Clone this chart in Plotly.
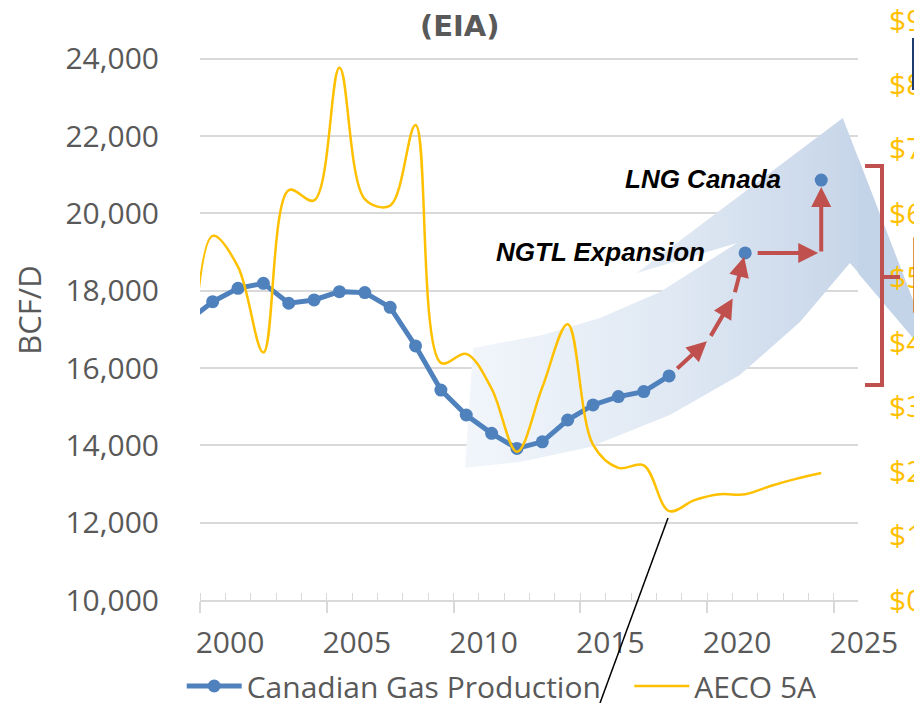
import plotly.graph_objects as go

# Canadian gas production (left axis)
prod_years = list(range(1999, 2019))
production = [17200, 17715, 18060, 18190, 17675, 17760, 17975, 17950, 17570, 16570,
              15430, 14785, 14310, 13920, 14090, 14655, 15045, 15260, 15390, 15795]

# projected points
proj_years = [2021, 2024]
proj_values = [18975, 20860]
proj_labels = ["NGTL Expansion", "LNG Canada"]

# path of the red arrows (2018 -> NGTL -> LNG Canada)
route_years = [2018, 2019.55, 2020.55, 2021, 2024, 2024]
route_values = [15795, 16725, 17845, 18975, 18975, 20860]

# AECO 5A price (right axis)
aeco_years = list(range(1999, 2025))
aeco_price = [1.6, 5.65, 5.17, 3.84, 6.36, 6.2, 8.26, 6.22, 6.12, 7.37,
              3.68, 3.82, 3.28, 2.3, 3.3, 4.28, 2.41, 2.05, 2.09, 1.38,
              1.55, 1.64, 1.64, 1.77, 1.88, 1.97]

tick_years = [2000, 2005, 2010, 2015, 2020, 2025]
left_ticks = list(range(10000, 24001, 2000))
right_ticks = list(range(0, 10))

GRAY = "#595959"
GRID = "#D9D9D9"
BLUE = "#4F81BD"
GOLD = "#FFC000"
RED = "#C0504D"
FONT = "Open Sans"

# big light-blue growth arrow (decoration, in axis units)
arrow_x = [2010.27, 2013.0, 2015.27, 2017.64, 2020.68, 2016.73, 2024.85, 2028.6,
           2025.13, 2023.16, 2020.79, 2018.03, 2014.88, 2012.12, 2009.95]
arrow_y = [16517, 16853, 17293, 17965, 19233, 18457, 22465, 16100,
           18715, 17190, 15819, 14784, 13957, 13569, 13414]

fig = go.Figure()

fig.add_trace(go.Scatter(
    x=arrow_x, y=arrow_y, fill="toself", mode="none",
    fillgradient=dict(type="horizontal",
                      colorscale=[[0, "#F2F6FB"], [0.45, "#DFE8F3"], [1, "#BCCDE4"]]),
    hoverinfo="skip", showlegend=False))

fig.add_trace(go.Scatter(
    x=prod_years, y=production, name="Canadian Gas Production" + "\u00a0" * 3,
    mode="lines+markers", line=dict(color=BLUE, width=5),
    marker=dict(color=BLUE, size=13)))

fig.add_trace(go.Scatter(
    x=proj_years, y=proj_values, mode="markers", showlegend=False,
    marker=dict(color=BLUE, size=13)))

fig.add_trace(go.Scatter(
    x=aeco_years, y=aeco_price, name="AECO 5A", yaxis="y2",
    mode="lines", line=dict(color=GOLD, width=2.5, shape="spline", smoothing=1.0)))

# red step arrows
start_off = [9, 3, 3, 11, 0]
end_off = [2, 2, 4, 3, 7]
for i in range(len(route_years) - 1):
    fig.add_annotation(
        x=route_years[i + 1], y=route_values[i + 1], ax=route_years[i], ay=route_values[i],
        xref="x", yref="y", axref="x", ayref="y", text="",
        showarrow=True, arrowhead=2, arrowsize=1, arrowwidth=4, arrowcolor=RED,
        startstandoff=start_off[i], standoff=end_off[i])

for yr, val, lab in zip(proj_years, proj_values, proj_labels):
    fig.add_annotation(
        x=yr, y=val, xref="x", yref="y", text="<b><i>" + lab + "</i></b>",
        showarrow=False, xanchor="right", xshift=-38, yshift=1,
        font=dict(family="Liberation Sans", size=26, color="black"))

# page is shown with an 8px body margin, so screen pixels are offset by 8
OFF = 8
PLOT_L, PLOT_R, PLOT_T, PLOT_B = 200 - OFF, 858 - OFF, 20 - OFF, 600 - OFF


def px_x(p):
    return (p - OFF - PLOT_L) / float(PLOT_R - PLOT_L)


def px_y(p):
    return (PLOT_B - (p - OFF)) / float(PLOT_B - PLOT_T)


fig.add_annotation(
    x=px_x(460), y=px_y(26), xref="paper", yref="paper", text="<b>(EIA)</b>",
    xanchor="center", yanchor="middle",
    showarrow=False, font=dict(family="DejaVu Sans", size=29, color=GRAY))

shapes = []
# part of the growth arrow that spills past the plot
shapes.append(dict(
    type="path", xref="paper", yref="paper", layer="below", line=dict(width=0),
    fillcolor="#C3D3E8",
    path="M{},{} L{},{} L{},{} Z".format(px_x(858), px_y(157), px_x(940), px_y(370),
                                          px_x(858), px_y(273))))
# leader line
shapes.append(dict(type="line", xref="paper", yref="paper",
                   x0=px_x(668), y0=px_y(518), x1=px_x(600), y1=px_y(703),
                   line=dict(color="black", width=1.5)))
# red bracket
shapes.append(dict(
    type="path", xref="paper", yref="paper", line=dict(color=RED, width=4),
    path="M{a},{t} L{b},{t} L{b},{bt} L{a},{bt} M{b},{m} L{c},{m}".format(
        a=px_x(865), b=px_x(882), c=px_x(900), t=px_y(166), bt=px_y(385), m=px_y(277))))
# boxes peeking in from the right
shapes.append(dict(type="rect", xref="paper", yref="paper",
                   x0=px_x(914), x1=px_x(940), y0=px_y(312), y1=px_y(238),
                   fillcolor="#F39436", line=dict(color="#D5700E", width=1.5)))
shapes.append(dict(type="rect", xref="paper", yref="paper",
                   x0=px_x(912), x1=px_x(940), y0=px_y(90), y1=px_y(38),
                   fillcolor="#1F3C6E", line=dict(width=0)))

fig.update_layout(
    width=922, height=703,
    margin=dict(l=PLOT_L, r=922 - PLOT_R, t=PLOT_T, b=703 - PLOT_B),
    plot_bgcolor="white", paper_bgcolor="white",
    font=dict(family=FONT, color=GRAY),
    shapes=shapes,
    showlegend=True,
    legend=dict(orientation="h",
                xref="container", x=(181.7 - OFF) / 922.0, xanchor="left",
                yref="container", y=(703 - (686 - OFF)) / 703.0, yanchor="middle",
                font=dict(family=FONT, size=30, color=GRAY), itemwidth=55,
                bgcolor="rgba(0,0,0,0)"),
    xaxis=dict(
        range=[1999.5, 2025.45], automargin=False,
        tickvals=[y - 0.5 for y in tick_years], ticktext=[str(y) for y in tick_years],
        ticks="outside", ticklen=11, tickwidth=1.5, tickcolor=GRID,
        showline=True, linecolor=GRID, linewidth=1.5, showgrid=False, zeroline=False,
        minor=dict(tickvals=[y + 0.5 for y in range(1999, 2025)], ticks="inside",
                   ticklen=7, tickwidth=1.2, tickcolor=GRID, showgrid=False),
        tickfont=dict(family=FONT, size=30, color=GRAY),
        ticklabelshift=30, ticklabelstandoff=4),
    yaxis=dict(
        range=[10000, 25000], tickvals=left_ticks, tickformat=",", automargin=False,
        showgrid=True, gridcolor=GRID, gridwidth=1.5, zeroline=False,
        showline=False, ticks="",
        tickfont=dict(family=FONT, size=30, color=GRAY), ticklabelstandoff=40,
        title=dict(text="BCF/D", font=dict(family=FONT, size=31, color=GRAY), standoff=20)),
    yaxis2=dict(
        overlaying="y", side="right", range=[0, 9], automargin=False,
        tickvals=right_ticks, ticktext=["$" + str(v) for v in right_ticks],
        ticklabeloverflow="allow",
        showgrid=False, zeroline=False, showline=False, ticks="",
        tickfont=dict(family=FONT, size=30, color=GOLD), ticklabelstandoff=30),
)

fig.write_html("out.html")
